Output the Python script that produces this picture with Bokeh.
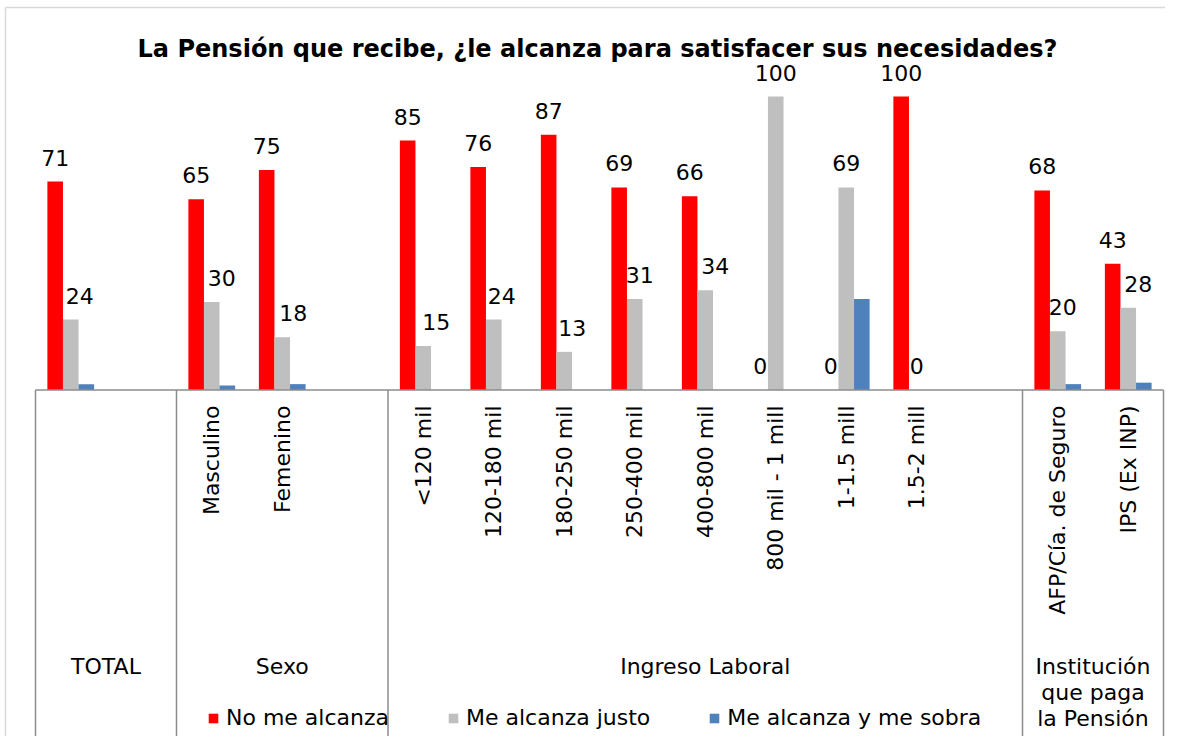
import math
from bokeh.plotting import figure
from bokeh.models import ColumnDataSource, Range1d, Legend, LegendItem
from bokeh.core.properties import value
from bokeh.embed import file_html
from bokeh.resources import INLINE

# ---------------- data ----------------
title_text = "La Pensión que recibe, ¿le alcanza para satisfacer sus necesidades?"
group_names = ["TOTAL", "Sexo", "Ingreso Laboral", "Institución\nque paga\nla Pensión"]
group_members = [
    [""],
    ["Masculino", "Femenino"],
    ["<120 mil", "120-180 mil", "180-250 mil", "250-400 mil", "400-800 mil",
     "800 mil - 1 mill", "1-1.5 mill", "1.5-2 mill"],
    ["AFP/Cía. de Seguro", "IPS (Ex INP)"],
]
series_names = ["No me alcanza", "Me alcanza justo", "Me alcanza y me sobra"]
no_me_alcanza = [71, 65, 75, 85, 76, 87, 69, 66, 0, 0, 100, 68, 43]
me_alcanza_justo = [24, 30, 18, 15, 24, 13, 31, 34, 100, 69, 0, 20, 28]
me_alcanza_y_sobra = [2, 1.5, 2, 0, 0, 0, 0, 0, 0, 31, 0, 2, 2.5]

# ---------------- style ----------------
FONT = "DejaVu Sans"
RED, GRAY, BLUE = "#FF0000", "#BFBFBF", "#4F81BD"
LINE = "#8C8C8C"
gray_label_nudge = [9, 10, 11, 13, 8, 8, 5, 10, 0, 0, 0, 5, 10]  # px

W, H = 1165, 736
SLOT_PX = 70.5
LEFT_PX = 35          # left of first slot, from canvas left
ZERO_PX = 389.5       # baseline, from canvas top
UNIT_PX = 2.935       # px per percent

x0 = -0.5 - LEFT_PX / SLOT_PX
x1 = x0 + W / SLOT_PX
y1 = ZERO_PX / UNIT_PX
y0 = y1 - H / UNIT_PX

def xd(px):  # canvas px -> data x
    return x0 + px / SLOT_PX

def yd(py):  # canvas px (from top) -> data y
    return (ZERO_PX - py) / UNIT_PX

# slot layout: categories with a blank slot after each group (except last)
cat_x, cat_label, group_span = [], [], []
slot = 0
for gi, members in enumerate(group_members):
    start = slot
    for m in members:
        cat_x.append(slot)
        cat_label.append(m)
        slot += 1
    if gi < len(group_members) - 1:
        slot += 1
    group_span.append((start - 0.5, slot - 0.5))
group_span[-1] = (group_span[-1][0], slot - 0.5)

BW = 0.221
src = ColumnDataSource(dict(
    x=cat_x, red=no_me_alcanza, gray=me_alcanza_justo, blue=me_alcanza_y_sobra,
    xr=[v - BW for v in cat_x], xb=[v + BW for v in cat_x],
    red_lbl=[str(v) for v in no_me_alcanza],
    gray_lbl=[str(v) for v in me_alcanza_justo],
    nudge=gray_label_nudge,
))

p = figure(width=W, height=H, output_backend="svg", toolbar_location=None,
           x_range=Range1d(x0, x1), y_range=Range1d(y0, y1),
           min_border=0, min_border_left=0, min_border_right=0,
           min_border_top=0, min_border_bottom=0)
p.xaxis.visible = False
p.yaxis.visible = False
p.grid.visible = False
p.outline_line_color = None
p.background_fill_color = "white"
p.border_fill_color = "white"

# chart border (top & left)
p.segment(x0=[xd(5), xd(5)], y0=[yd(7), yd(7)], x1=[x1, xd(5)], y1=[yd(7), y0],
          line_color="#D9D9D9", line_width=1.5)

r_red = p.vbar(x="xr", top="red", width=BW, source=src, fill_color=RED, line_color=None)
r_gray = p.vbar(x="x", top="gray", width=BW, source=src, fill_color=GRAY, line_color=None)
r_blue = p.vbar(x="xb", top="blue", width=BW, source=src, fill_color=BLUE, line_color=None)

lbl_style = dict(text_font=value(FONT), text_font_size="22px", text_color="#000000",
                 text_align="center", text_baseline="alphabetic")
p.text(x="xr", y="red", text="red_lbl", source=src, y_offset=-24, **lbl_style)
p.text(x="x", y="gray", text="gray_lbl", source=src, y_offset=-24, x_offset="nudge", **lbl_style)

# axis baseline and group dividers
bounds = sorted(set([b for s in group_span for b in s]))
p.segment(x0=[bounds[0]], y0=[0], x1=[bounds[-1]], y1=[0], line_color=LINE, line_width=1.5)
p.segment(x0=bounds, y0=[0] * len(bounds), x1=bounds, y1=[y0] * len(bounds),
          line_color=LINE, line_width=1.5)

# category labels (rotated)
p.text(x=cat_x, y=[yd(405)] * len(cat_x), text=cat_label, angle=math.pi / 2,
       text_align="right", text_baseline="middle", text_font=value(FONT),
       text_font_size="22px", text_color="#000000")

# group labels
gx, gy, gt = [], [], []
for (a, b), name in zip(group_span, group_names):
    for k, line in enumerate(name.split("\n")):
        gx.append((a + b) / 2)
        gy.append(yd(666 + 26 * k))
        gt.append(line)
p.text(x=gx, y=gy, text=gt, text_align="center", text_baseline="middle",
       text_font=value(FONT), text_font_size="22px", text_color="#000000")

# title
p.text(x=[xd(597)], y=[yd(48)], text=[title_text], text_align="center",
       text_baseline="middle", text_font=value(FONT), text_font_size="24px",
       text_font_style="bold", text_color="#000000")

legend = Legend(items=[LegendItem(label=series_names[0], renderers=[r_red]),
                       LegendItem(label=series_names[1], renderers=[r_gray]),
                       LegendItem(label=series_names[2], renderers=[r_blue])],
                orientation="horizontal", location=(207, 6),
                glyph_width=12, glyph_height=12, label_standoff=7, spacing=58,
                padding=0, margin=0, border_line_alpha=0, background_fill_alpha=0,
                label_text_font=FONT, label_text_font_size="22px",
                label_text_color="#000000", label_height=24)
p.add_layout(legend, "center")

open("out.html", "w").write(file_html(p, INLINE))
